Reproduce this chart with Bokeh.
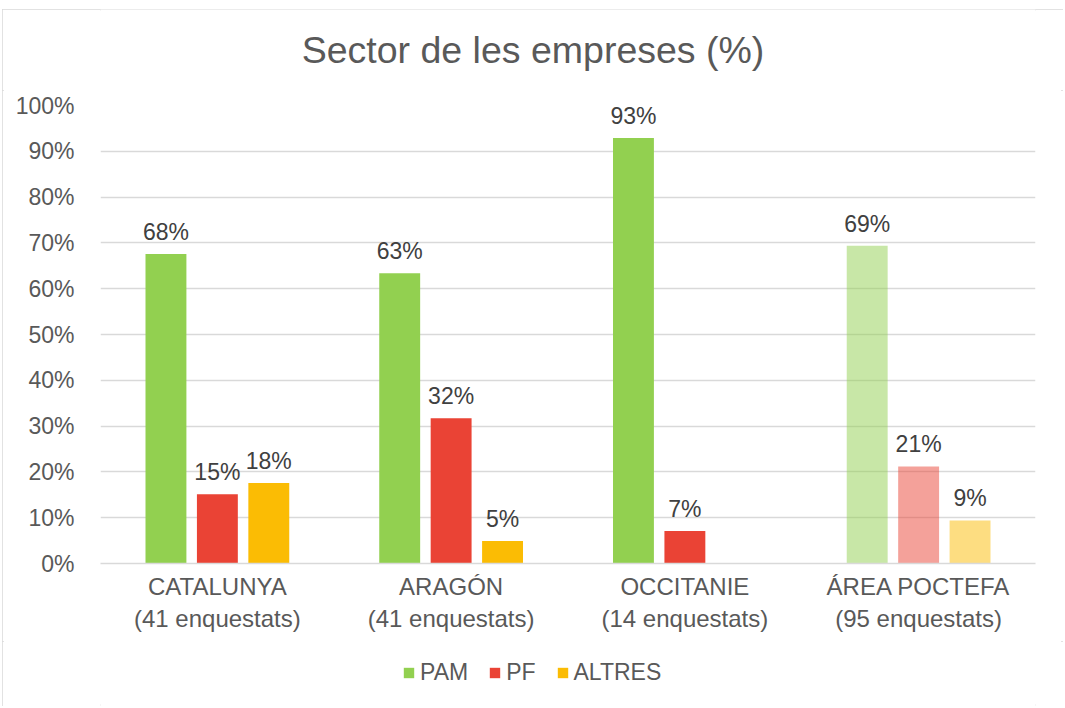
from bokeh.plotting import figure
from bokeh.layouts import column
from bokeh.models import (FactorRange, Range1d, ColumnDataSource, Legend, LegendItem, Label,
                          FixedTicker, PrintfTickFormatter, CategoricalAxis, CustomJSTickFormatter)
from bokeh.transform import dodge
from bokeh.core.properties import value
from bokeh.embed import file_html
from bokeh.resources import INLINE

# ---- data ----
regions = ["CATALUNYA", "ARAGÓN", "OCCITANIE", "ÁREA POCTEFA"]
surveys = [41, 41, 14, 95]
series_names = ["PAM", "PF", "ALTRES"]
pam = [67.6, 63.4, 92.9, 69.4]
pf = [15.1, 31.7, 7.1, 21.2]
altres = [17.6, 4.9, 0.0, 9.4]
y_ticks = [0, 10, 20, 30, 40, 50, 60, 70, 80, 90, 100]
title_text = "Sector de les empreses (%)"

colors = ["#92D050", "#EA4335", "#FBBC04"]
FONT = "Liberation Sans"
W = 1061

# title strip
tf = figure(width=W, height=81, x_range=Range1d(0, 1), y_range=Range1d(0, 1),
            output_backend="svg", toolbar_location=None, min_border=0,
            x_axis_location=None, y_axis_location=None)
tf.outline_line_color = None
tf.grid.visible = False
tf.add_layout(Label(x=0.5, y=0.5, x_offset=-35, text=title_text, text_align="center",
                    text_baseline="middle", text_font=FONT, text_font_size="37.5px",
                    text_color="#595959"))

# main chart
p = figure(x_range=FactorRange(*regions), y_range=Range1d(0, 100),
           width=W, height=551, output_backend="svg", toolbar_location=None,
           min_border_left=98, min_border_right=28, min_border_top=15,
           min_border_bottom=78)
p.outline_line_color = None

offsets = [-0.22, 0.0, 0.22]
renderers = []
for name, vals, col, off in zip(series_names, [pam, pf, altres], colors, offsets):
    alphas = [0.5 if r == "ÁREA POCTEFA" else 1.0 for r in regions]
    labels = [f"{int(v + 0.5)}%" if v > 0 else "" for v in vals]
    src = ColumnDataSource(dict(x=regions, top=vals, alpha=alphas, label=labels))
    r = p.vbar(x=dodge("x", off, range=p.x_range), top="top", width=0.175, source=src,
               fill_color=col, fill_alpha="alpha", line_color=None)
    renderers.append(r)
    p.text(x=dodge("x", off, range=p.x_range), y="top", text="label", source=src,
           text_align="center", text_baseline="bottom", y_offset=-9,
           text_font=value(FONT), text_font_size="23px", text_color="#404040")

p.ygrid.grid_line_color = "#d9d9d9"
p.ygrid.grid_line_width = 1.5
p.xgrid.grid_line_color = None

p.yaxis.ticker = FixedTicker(ticks=y_ticks)
p.yaxis.formatter = PrintfTickFormatter(format="%d%%")
p.yaxis.axis_line_color = None
p.yaxis.major_tick_line_color = None
p.yaxis.minor_tick_line_color = None
p.yaxis.major_label_standoff = 20
p.yaxis.major_label_text_font = FONT
p.yaxis.major_label_text_font_size = "23px"
p.yaxis.major_label_text_color = "#595959"

p.xaxis.axis_line_color = "#d9d9d9"
p.xaxis.axis_line_width = 1.5
p.xaxis.major_tick_line_color = None
p.xaxis.minor_tick_line_color = None
p.xaxis.major_label_standoff = 3
p.xaxis.major_label_text_font = FONT
p.xaxis.major_label_text_font_size = "24px"
p.xaxis.major_label_text_color = "#595959"

sub_labels = {r: f"({n} enquestats)" for r, n in zip(regions, surveys)}
ax2 = CategoricalAxis(formatter=CustomJSTickFormatter(args=dict(m=sub_labels), code="return m[tick]"),
                      axis_line_color=None, major_tick_line_color=None, minor_tick_line_color=None,
                      major_label_standoff=-4, major_label_text_font=FONT,
                      major_label_text_font_size="24px", major_label_text_color="#595959")
p.add_layout(ax2, "below")

# legend strip (swatches are zero-height proxy bars; only their colours are used)
lf = figure(width=W, height=65, x_range=Range1d(0, 1), y_range=Range1d(0, 1),
            output_backend="svg", toolbar_location=None, min_border=0,
            x_axis_location=None, y_axis_location=None)
lf.outline_line_color = None
lf.grid.visible = False
proxies = [lf.vbar(x=[0], top=[0], width=0, fill_color=c, line_color=None) for c in colors]
legend = Legend(items=[LegendItem(label=n, renderers=[r]) for n, r in zip(series_names, proxies)],
                orientation="horizontal", location=(302, 20),
                glyph_width=13, glyph_height=13, label_standoff=5, spacing=20,
                label_text_font=FONT, label_text_font_size="23px", label_text_color="#595959",
                border_line_color=None, background_fill_alpha=0, padding=4, margin=0)
lf.add_layout(legend)

layout = column(tf, p, lf, spacing=0)
layout.styles = {"margin-left": "2px", "margin-top": "9px",
                 "outline": "2px solid #d9d9d9", "outline-offset": "-2px"}

open("out.html", "w").write(file_html(layout, INLINE))
